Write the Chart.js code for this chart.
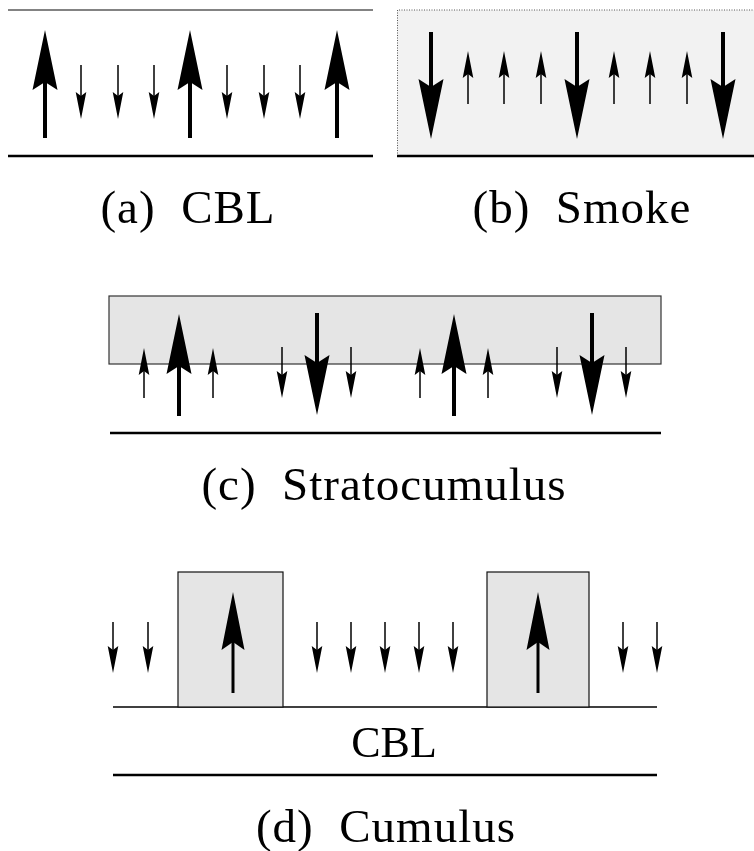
<!DOCTYPE html>
<html>
<head>
<meta charset="utf-8">
<script src="https://cdn.jsdelivr.net/npm/chart.js@4/dist/chart.umd.min.js"></script>
<style>
  html, body { margin: 0; padding: 0; background: #fff; }
  #wrap { width: 754px; height: 851px; }
</style>
</head>
<body>
<div id="wrap"><canvas id="sketch" width="754" height="851"></canvas></div>
<script>
// Diagram units: x runs left to right, y runs top to bottom (0..754, 0..851)

// (a) CBL: strong narrow updrafts, weak broad downdrafts
var cblUpX = [45, 190, 337];
var cblUpY = [138, 30];          // tail, tip
var cblDownX = [81, 118, 154, 227, 264, 300];
var cblDownY = [65, 119];

// (b) Smoke: strong downdrafts driven by cloud-top cooling
var smokeDownX = [431, 577, 723];
var smokeDownY = [32, 139];
var smokeUpX = [468, 504, 541, 614, 650, 687];
var smokeUpY = [104, 51];

// (c) Stratocumulus
var scBigUpX = [179, 454];
var scBigUpY = [416, 314];
var scSmallUpX = [144, 213, 420, 488];
var scSmallUpY = [398, 348];
var scBigDownX = [317, 592];
var scBigDownY = [313, 415];
var scSmallDownX = [282, 351, 557, 626];
var scSmallDownY = [347, 398];

// (d) Cumulus
var cuUpX = [233, 538];
var cuUpY = [693, 592];
var cuDownX = [113, 148, 317, 351, 385, 419, 453, 623, 657];
var cuDownY = [622, 673];
var cuCloudX = [[178, 283], [487, 589]];
var cuCloudY = [572, 707];

var panelLabels = ['(a)\u00a0\u00a0CBL', '(b)\u00a0\u00a0Smoke', '(c)\u00a0\u00a0Stratocumulus', '(d)\u00a0\u00a0Cumulus'];
var labelX = [188, 582, 384, 386];
var labelY = [223, 223, 500, 842];
var layerLabel = 'CBL';

// arrow styles (pixels)
var bigArrow = { shaft: 4, head: 60, half: 12.5, notch: 8 };
var midArrow = { shaft: 3, head: 58, half: 11.5, notch: 8 };
var smallArrow = { shaft: 1.5, head: 27, half: 5.3, notch: 4 };

function arrows(xs, ys, style) {
  return xs.map(function (x) { return { x: x, y: ys[0], tip: ys[1], style: style }; });
}

var arrowSets = [
  arrows(cblUpX, cblUpY, bigArrow),
  arrows(cblDownX, cblDownY, smallArrow),
  arrows(smokeDownX, smokeDownY, bigArrow),
  arrows(smokeUpX, smokeUpY, smallArrow),
  arrows(scBigUpX, scBigUpY, bigArrow),
  arrows(scSmallUpX, scSmallUpY, smallArrow),
  arrows(scBigDownX, scBigDownY, bigArrow),
  arrows(scSmallDownX, scSmallDownY, smallArrow),
  arrows(cuUpX, cuUpY, midArrow),
  arrows(cuDownX, cuDownY, smallArrow)
];

function drawArrow(ctx, px, pTail, pTip, st) {
  var dir = pTip > pTail ? 1 : -1;
  var back = pTip - dir * st.head;
  var notch = back + dir * st.notch;
  ctx.lineWidth = st.shaft;
  ctx.beginPath();
  ctx.moveTo(px, pTail);
  ctx.lineTo(px, notch);
  ctx.stroke();
  ctx.beginPath();
  ctx.moveTo(px, pTip);
  ctx.lineTo(px - st.half, back);
  ctx.lineTo(px, notch);
  ctx.lineTo(px + st.half, back);
  ctx.closePath();
  ctx.fill();
}

function hline(ctx, sx, sy, x0, x1, y, w, color) {
  ctx.lineWidth = w;
  ctx.strokeStyle = color;
  ctx.beginPath();
  ctx.moveTo(sx(x0), sy(y));
  ctx.lineTo(sx(x1), sy(y));
  ctx.stroke();
}

var sketchPlugin = {
  id: 'sketch',
  beforeDatasetsDraw: function (chart) {
    var ctx = chart.ctx;
    var sx = function (v) { return chart.scales.x.getPixelForValue(v); };
    var sy = function (v) { return chart.scales.y.getPixelForValue(v); };
    ctx.save();

    // (a) inversion line and ground
    hline(ctx, sx, sy, 8, 373, 10, 1.4, '#5a5a5a');
    hline(ctx, sx, sy, 8, 373, 156, 2.6, '#000');

    // (b) smoke layer fills the whole layer
    ctx.fillStyle = '#f2f2f2';
    ctx.fillRect(sx(397), sy(10), sx(760) - sx(397), sy(156) - sy(10));
    ctx.setLineDash([1, 1.5]);
    ctx.lineWidth = 1;
    ctx.strokeStyle = '#555';
    ctx.beginPath();
    ctx.moveTo(sx(397.5), sy(156));
    ctx.lineTo(sx(397.5), sy(10));
    ctx.lineTo(sx(760), sy(10));
    ctx.stroke();
    ctx.setLineDash([]);
    hline(ctx, sx, sy, 397, 760, 156, 2.6, '#000');

    // (c) stratocumulus deck
    ctx.fillStyle = '#e5e5e5';
    ctx.fillRect(sx(109), sy(296), sx(661) - sx(109), sy(364) - sy(296));
    ctx.lineWidth = 1.2;
    ctx.strokeStyle = '#333';
    ctx.strokeRect(sx(109), sy(296), sx(661) - sx(109), sy(364) - sy(296));
    hline(ctx, sx, sy, 110, 661, 433, 2.6, '#000');

    // (d) cumulus clouds on top of the CBL
    hline(ctx, sx, sy, 113, 657, cuCloudY[1], 1.3, '#000');
    cuCloudX.forEach(function (c) {
      ctx.fillStyle = '#e5e5e5';
      ctx.fillRect(sx(c[0]), sy(cuCloudY[0]), sx(c[1]) - sx(c[0]), sy(cuCloudY[1]) - sy(cuCloudY[0]));
      ctx.lineWidth = 1.2;
      ctx.strokeStyle = '#111';
      ctx.strokeRect(sx(c[0]), sy(cuCloudY[0]), sx(c[1]) - sx(c[0]), sy(cuCloudY[1]) - sy(cuCloudY[0]));
    });
    hline(ctx, sx, sy, 113, 657, 775, 2.6, '#000');

    ctx.restore();
  },
  afterDatasetsDraw: function (chart) {
    var ctx = chart.ctx;
    var sx = function (v) { return chart.scales.x.getPixelForValue(v); };
    var sy = function (v) { return chart.scales.y.getPixelForValue(v); };
    ctx.save();
    ctx.fillStyle = '#000';
    ctx.strokeStyle = '#000';
    ctx.lineCap = 'butt';
    chart.data.datasets.forEach(function (ds) {
      ds.data.forEach(function (a) {
        drawArrow(ctx, sx(a.x), sy(a.y), sy(a.tip), a.style);
      });
    });

    // labels
    ctx.textAlign = 'center';
    ctx.textBaseline = 'alphabetic';
    ctx.font = '47px "Liberation Serif", serif';
    if ('letterSpacing' in ctx) ctx.letterSpacing = '1px';
    panelLabels.forEach(function (t, i) {
      ctx.fillText(t, sx(labelX[i]), sy(labelY[i]));
    });
    if ('letterSpacing' in ctx) ctx.letterSpacing = '0px';
    ctx.font = '44px "Liberation Serif", serif';
    ctx.fillText(layerLabel, sx(394), sy(757));
    ctx.restore();
  }
};

var ctx = document.getElementById('sketch').getContext('2d');
var sketchChart = new Chart(ctx, {
  type: 'scatter',
  data: {
    datasets: arrowSets.map(function (set) {
      return { data: set, pointRadius: 0, showLine: false };
    })
  },
  options: {
    responsive: false,
    animation: false,
    events: [],
    layout: { padding: 0 },
    plugins: { legend: { display: false }, tooltip: { enabled: false } },
    scales: {
      x: { type: 'linear', min: 0, max: 754, display: false },
      y: { type: 'linear', min: 0, max: 851, reverse: true, display: false }
    }
  },
  plugins: [sketchPlugin]
});
</script>
</body>
</html>
